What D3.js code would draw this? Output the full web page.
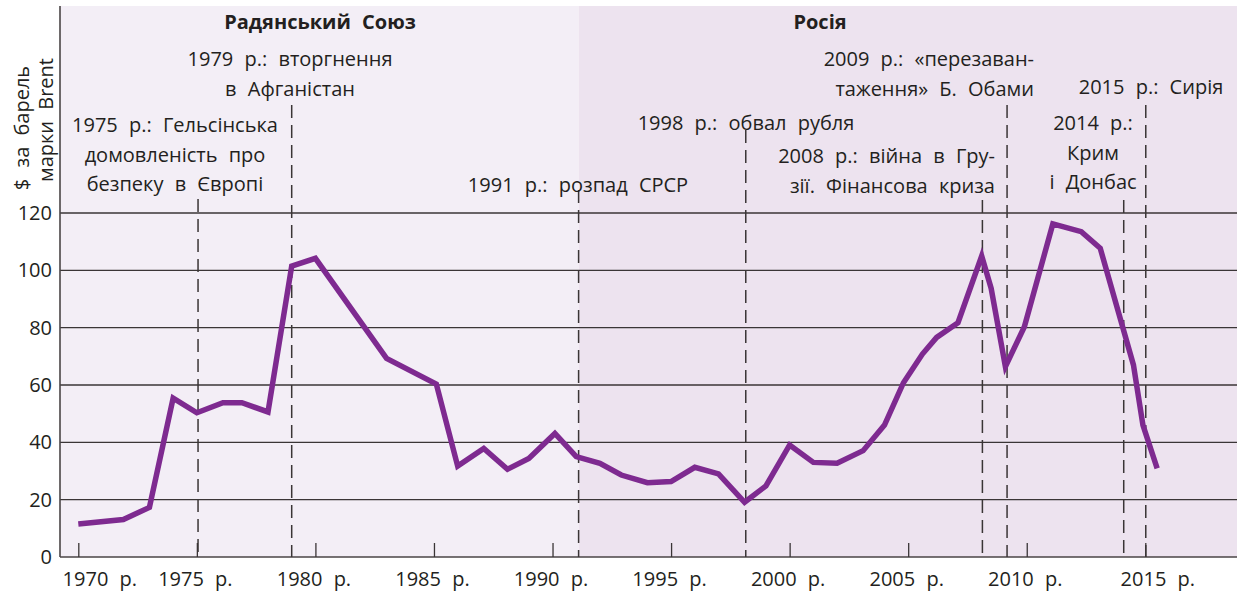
<!DOCTYPE html>
<html>
<head>
<meta charset="utf-8">
<script src="https://cdn.jsdelivr.net/npm/d3@7"></script>
<style>
  html, body { margin: 0; padding: 0; background: #fff; }
  svg { display: block; }
  text { font-family: "Open Sans", "Noto Sans", sans-serif; fill: #231f20; word-spacing: 6px; }
</style>
</head>
<body>
<svg id="chart" width="1237" height="593"></svg>
<script>
// Brent crude price, $ per barrel (real terms), 1970–2015
const years = [1970.0, 1971.9, 1973.0, 1974.0, 1975.0, 1976.1, 1976.9, 1978.0, 1979.0, 1980.0,
  1983.0, 1985.1, 1986.0, 1987.1, 1988.1, 1989.0, 1990.1, 1991.0, 1992.0, 1992.9,
  1994.0, 1995.0, 1996.0, 1997.0, 1998.1, 1999.0, 2000.0, 2001.0, 2002.0, 2003.1,
  2004.0, 2004.8, 2005.6, 2006.2, 2007.1, 2008.1, 2008.5, 2009.1, 2009.9, 2011.1,
  2012.3, 2013.1, 2014.0, 2014.5, 2014.9, 2015.5];
const prices = [11.5, 13.1, 17.3, 55.4, 50.3, 53.8, 53.8, 50.6, 101.5, 104.2,
  69.3, 60.3, 31.7, 37.9, 30.6, 34.4, 43.1, 35.0, 32.7, 28.6,
  25.9, 26.3, 31.3, 29.0, 19.1, 24.8, 39.1, 33.0, 32.7, 37.1,
  46.0, 60.8, 70.8, 76.6, 81.7, 105.0, 93.7, 66.4, 80.3, 116.2,
  113.5, 107.7, 81.5, 67.0, 46.0, 30.9];

// Axis ticks
const xTicks = [1970, 1975, 1980, 1985, 1990, 1995, 2000, 2005, 2010, 2015];
const yTicks = [0, 20, 40, 60, 80, 100, 120];

// Political periods
const periodNames = ["Радянський Союз", "Росія"];
const periodStart = [1969.2, 1991.1];
const periodEnd = [1991.1, 2018.9];

// Events: year of the dashed marker and its caption lines
const eventYears = [1975.05, 1979.0, 1991.1, 1998.15, 2008.13, 2009.17, 2014.09, 2015.02];
const eventLines = [
  ["1975 р.: Гельсінська", "домовленість про", "безпеку в Європі"],
  ["1979 р.: вторгнення", "в Афганістан"],
  ["1991 р.: розпад СРСР"],
  ["1998 р.: обвал рубля"],
  ["2008 р.: війна в Гру-", "зії. Фінансова криза"],
  ["2009 р.: «перезаван-", "таження» Б. Обами"],
  ["2014 р.:", "Крим", "і Донбас"],
  ["2015 р.: Сирія"]
];

(function draw() {
  const svg = d3.select("#chart");
  const W = 1237;
  const plotLeft = 60, plotRight = W, plotTop = 6, plotBottom = 557;
  const fs = 20;

  const x = d3.scaleLinear().domain([1970, 2015]).range([78.3, 1145.3]);
  const y = d3.scaleLinear().domain([0, 120]).range([plotBottom, 213]);

  // period backgrounds
  const bgColors = ["#f3eef6", "#ede3ef"];
  svg.selectAll("rect.period").data(periodNames).join("rect")
    .attr("class", "period")
    .attr("x", (d, i) => Math.max(plotLeft, x(periodStart[i])))
    .attr("y", plotTop)
    .attr("width", (d, i) => Math.min(plotRight, x(periodEnd[i])) - Math.max(plotLeft, x(periodStart[i])))
    .attr("height", plotBottom - plotTop)
    .attr("fill", (d, i) => bgColors[i]);

  // horizontal grid
  svg.append("g")
    .selectAll("line").data(yTicks.filter(v => v > 0)).join("line")
    .attr("x1", plotLeft).attr("x2", plotRight)
    .attr("y1", d => y(d)).attr("y2", d => y(d))
    .attr("stroke", "#3a3536").attr("stroke-width", 1.3);

  // y axis
  const yAxis = d3.axisLeft(y).tickValues(yTicks).tickSize(0).tickPadding(8);
  const gy = svg.append("g").attr("transform", `translate(${plotLeft},0)`).call(yAxis);
  gy.select(".domain").attr("d", `M0,${plotTop}V${plotBottom}`).attr("stroke", "#4a4546").attr("stroke-width", 1.6);
  gy.selectAll("text").attr("font-size", fs).attr("fill", "#231f20")
    .attr("font-family", "'Open Sans', sans-serif");

  // x axis: inward ticks
  const xAxis = d3.axisBottom(x).tickValues(xTicks).tickSize(-14).tickPadding(22)
    .tickFormat(d => d + " р.");
  const gx = svg.append("g").attr("transform", `translate(0,${plotBottom})`).call(xAxis);
  gx.select(".domain").attr("d", `M${plotLeft},0H${plotRight}`).attr("stroke", "#4a4546").attr("stroke-width", 1.6);
  gx.selectAll(".tick line").attr("stroke", "#3a3536").attr("stroke-width", 1.3);
  gx.selectAll("text").attr("font-size", fs).attr("fill", "#231f20")
    .attr("font-family", "'Open Sans', sans-serif")
    .attr("y", 15)
    .attr("dy", "0.71em")
    .attr("dx", d => d === 1970 ? 21 : d === 2015 ? 12 : -2);

  // y axis title (two rotated lines)
  const yTitle = ["$ за барель", "марки Brent"];
  svg.append("g").selectAll("text").data(yTitle).join("text")
    .attr("transform", (d, i) => `translate(${i === 0 ? 29 : 53},${i === 0 ? 128 : 120}) rotate(-90)`)
    .attr("text-anchor", "middle")
    .attr("font-size", fs)
    .text(d => d);

  // event dashed markers
  const eventTop = [199, 105, 190, 130, 200, 105, 200, 105];
  svg.append("g").selectAll("line").data(eventYears).join("line")
    .attr("x1", d => x(d)).attr("x2", d => x(d))
    .attr("y1", (d, i) => eventTop[i]).attr("y2", plotBottom)
    .attr("stroke", "#3a3536").attr("stroke-width", 1.5)
    .attr("stroke-dasharray", "13,7");

  // price line
  const line = d3.line().x((d, i) => x(years[i])).y(d => y(d));
  svg.append("path").datum(prices)
    .attr("d", line)
    .attr("fill", "none")
    .attr("stroke", "#7e2a90")
    .attr("stroke-width", 5.5)
    .attr("stroke-linejoin", "miter");

  // event captions
  const capX = [175, 290, 578, 746, 995, 1034, 1093, 1151];
  const capAnchor = ["middle", "middle", "middle", "middle", "end", "end", "middle", "middle"];
  const capBaseline = [132, 66, 192, 130, 163, 66, 130, 94];
  const lineGap = 29.5;
  const caps = svg.append("g");
  eventLines.forEach((lines, i) => {
    const t = caps.append("text")
      .attr("text-anchor", capAnchor[i])
      .attr("font-size", fs);
    lines.forEach((s, j) => {
      t.append("tspan").attr("x", capX[i]).attr("y", capBaseline[i] + j * lineGap).text(s);
    });
  });

  // period titles
  const periodTitleX = [320, 820];
  svg.append("g").selectAll("text").data(periodNames).join("text")
    .attr("x", (d, i) => periodTitleX[i]).attr("y", 29)
    .attr("text-anchor", "middle")
    .attr("font-size", fs).attr("font-weight", "bold")
    .text(d => d);
})();
</script>
</body>
</html>
